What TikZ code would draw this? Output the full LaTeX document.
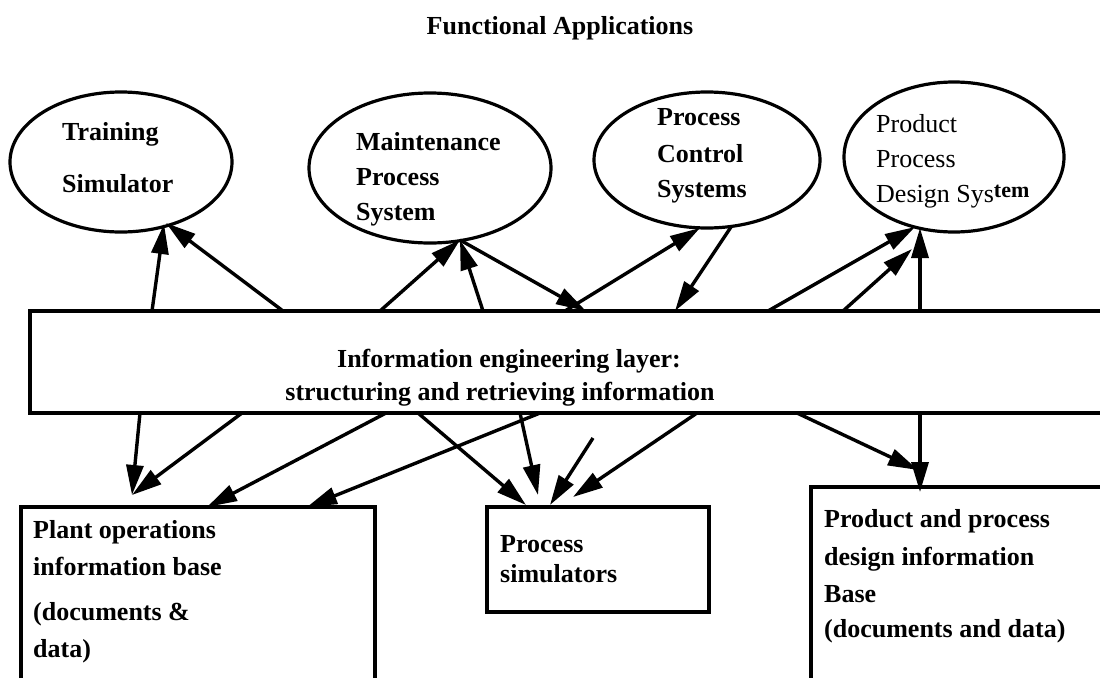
\documentclass[tikz,border=0pt]{standalone}
\usepackage{fontspec}
\setmainfont{Liberation Serif}
\usetikzlibrary{arrows.meta,shapes.geometric,calc}
\tikzset{
  app/.style={ellipse, draw, line width=3.2pt, inner sep=0pt},
  txt/.style={anchor=base west, inner sep=0pt, font=\fontsize{26}{30}\selectfont\bfseries},
  txtr/.style={anchor=base west, inner sep=0pt, font=\fontsize{26}{30}\selectfont},
  link/.style={line width=3.4pt, -{Triangle[length=30pt,width=17pt]}},
  frame/.style={line width=3.4pt},
  slot/.style={inner sep=0pt, outer sep=0pt, anchor=north west},
}
\begin{document}
\begin{tikzpicture}[x=1pt,y=-1pt]
\path[use as bounding box, fill=white] (0,0) rectangle (1100,678);

% heading
\node[txt, anchor=base] (title) at (560,34) {Functional Applications};

% functional applications
\node[app, minimum width=222pt, minimum height=140pt] (E1) at (121,162) {};
\node[app, minimum width=242pt, minimum height=150pt] (E2) at (430,168) {};
\node[app, minimum width=226pt, minimum height=136pt] (E3) at (707,160) {};
\node[app, minimum width=220pt, minimum height=150pt] (E4) at (954,157) {};

\node[txt] (E1a) at (62,140) {Training};
\node[txt] (E1b) at (62,192) {Simulator};
\node[txt] (E2a) at (356,150) {Maintenance};
\node[txt] (E2b) at (356,185) {Process};
\node[txt] (E2c) at (356,220) {System};
\node[txt] (E3a) at (657,125) {Process};
\node[txt] (E3b) at (657,162) {Control};
\node[txt] (E3c) at (657,197) {Systems};
\node[txtr] (E4a) at (876,132) {Product};
\node[txtr] (E4b) at (876,167) {Process};
\node[txtr] (E4c) at (876,202) {Design Sys\raisebox{5pt}{\fontsize{22}{22}\selectfont\bfseries tem}};

% information engineering layer (open on the right)
\node[slot, minimum width=1070pt, minimum height=102pt] (L) at (30,311) {};
\draw[frame] (L.north east) -- (L.north west) -- (L.south west) -- (L.south east);
\node[txt, anchor=base] (L1) at (509,367) {Information engineering layer:};
\node[txt, anchor=base] (L2) at (500,400) {structuring and retrieving information};

% information bases
\node[slot, minimum width=354pt, minimum height=171pt] (P) at (21,507) {};
\draw[frame] (P.south west) -- (P.north west) -- (P.north east) -- (P.south east);
\node[slot, draw, frame, minimum width=222pt, minimum height=105pt] (S) at (487,507) {};
\node[slot, minimum width=289pt, minimum height=191pt] (D) at (811,487) {};
\draw[frame] (D.north east) -- (D.north west) -- (D.south west);

\node[txt] (P1) at (33,538) {Plant operations};
\node[txt] (P2) at (33,575) {information base};
\node[txt] (P3) at (33,620) {(documents \&};
\node[txt] (P4) at (33,657) {data)};
\node[txt] (S1) at (500,552) {Process};
\node[txt] (S2) at (500,582) {simulators};
\node[txt] (D1) at (824,527) {Product and process};
\node[txt] (D2) at (824,565) {design information};
\node[txt] (D3) at (824,602) {Base};
\node[txt] (D4) at (824,637) {(documents and data)};

% links between layer and applications
\draw[link] ($(L.north west)+(122,0)$) -- ($(E1.center)+(43,62)$);
\draw[link] ($(L.north west)+(253,0)$) -- ($(E1.center)+(45,61)$);
\draw[link] ($(L.north west)+(350,0)$) -- ($(E2.center)+(30,72)$);
\draw[link] ($(L.north west)+(453,0)$) -- ($(E2.center)+(30,72)$);
\draw[link] ($(E2.center)+(30,72)$) -- ($(L.north west)+(556,0)$);
\draw[link] ($(L.north west)+(535,0)$) -- ($(E3.center)+(-7,68)$);
\draw[link] ($(E3.center)+(24,67)$) -- ($(L.north west)+(645,0)$);
\draw[link] ($(L.north west)+(738,0)$) -- ($(E4.center)+(-39,70)$);
\draw[link] ($(L.north west)+(813,0)$) -- ($(E4.center)+(-42,92)$);
\draw[link] ($(L.north west)+(890,0)$) -- ($(E4.center)+(-34,71)$);

% links between layer and information bases
\coordinate (f1) at (593,438);
\draw[link] ($(L.south west)+(110,0)$) -- ($(P.north west)+(111,-12)$);
\draw[link] ($(L.south west)+(212,0)$) -- ($(P.north west)+(111,-12)$);
\draw[link] ($(L.south west)+(356,0)$) -- ($(P.north west)+(186,0)$);
\draw[link] ($(L.south west)+(510,0)$) -- ($(P.north west)+(286,0)$);
\draw[link] ($(L.south west)+(388,0)$) -- ($(S.north west)+(39,-2)$);
\draw[link] ($(L.south west)+(490,0)$) -- ($(S.north west)+(51,-12)$);
\draw[link] (f1) -- ($(S.north west)+(63,-2)$);
\draw[link] ($(L.south west)+(667,0)$) -- ($(S.north west)+(86,-10)$);
\draw[link] ($(L.south west)+(767,0)$) -- ($(D.north west)+(107,-17)$);
\draw[link] ($(L.south west)+(890,0)$) -- ($(D.north west)+(109,5)$);
\end{tikzpicture}
\end{document}
